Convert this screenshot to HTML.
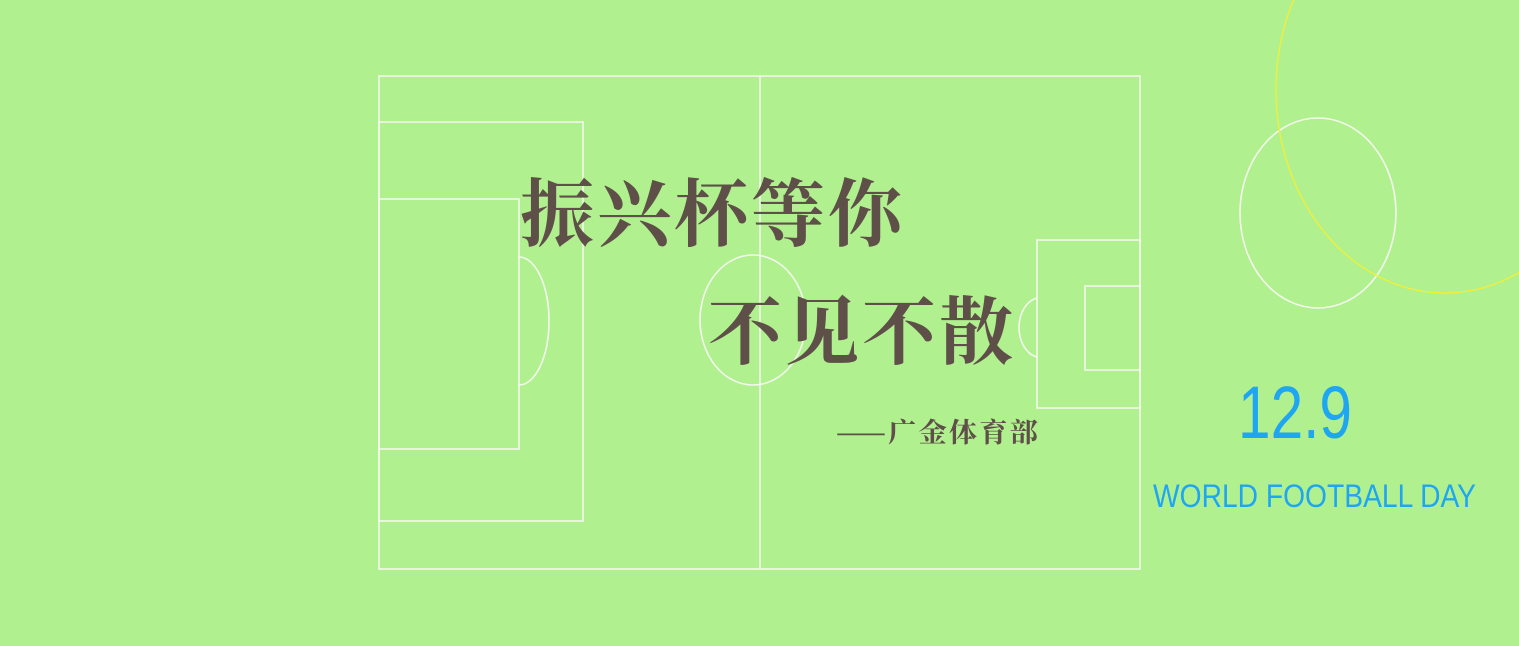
<!DOCTYPE html>
<html><head><meta charset="utf-8"><style>
html,body{margin:0;padding:0;background:#b1f08f;}
svg{display:block}
</style></head><body>
<svg width="1519" height="646" viewBox="0 0 1519 646" xmlns="http://www.w3.org/2000/svg">
<rect width="1519" height="646" fill="#b1f08f"/>
<g fill="none" stroke="#f4f8ee" stroke-width="1.6">
  <rect x="379" y="76" width="761" height="493"/>
  <line x1="760" y1="76" x2="760" y2="569"/>
  <rect x="379" y="122" width="204" height="399"/>
  <rect x="379" y="199" width="140" height="250"/>
  <path d="M519 257 A30 64 0 0 1 519 385"/>
  <ellipse cx="753" cy="320" rx="53" ry="65"/>
  <rect x="1037" y="240" width="103" height="168"/>
  <rect x="1085" y="286" width="55" height="84"/>
  <path d="M1037 298 A22 30 0 0 0 1037 357"/>
</g>
<ellipse cx="1318" cy="213" rx="78" ry="95" fill="none" stroke="#f4f8ee" stroke-width="1.6"/>
<ellipse cx="1445" cy="90" rx="169" ry="203" fill="none" stroke="#eef03a" stroke-width="1.4"/>
<g fill="#5e5048" font-family="'Noto Serif CJK SC','WenQuanYi Zen Hei','Noto Sans CJK SC',serif" font-weight="bold">
  <text x="520" y="240" font-size="74" letter-spacing="3">振兴杯等你</text>
  <text x="708" y="358" font-size="74" letter-spacing="3">不见不散</text>
  <text x="836" y="442" font-size="27" letter-spacing="2" textLength="204" lengthAdjust="spacingAndGlyphs">——广金体育部</text>
</g>
<text x="1238" y="438" font-family="'Liberation Sans',sans-serif" font-size="74" fill="#1fa6f3" textLength="114" lengthAdjust="spacingAndGlyphs">12.9</text>
<text x="1153" y="507" font-family="'Liberation Sans',sans-serif" font-size="32" fill="#1fa6f3" textLength="323" lengthAdjust="spacingAndGlyphs">WORLD FOOTBALL DAY</text>
</svg>
</body></html>
